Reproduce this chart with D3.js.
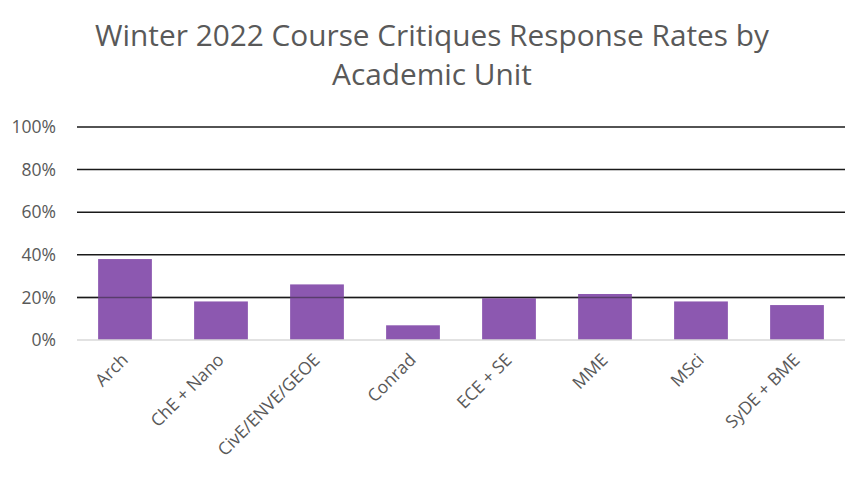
<!DOCTYPE html>
<html>
<head>
<meta charset="utf-8">
<script src="https://cdn.jsdelivr.net/npm/d3@7"></script>
<style>
  body { margin: 0; background: #fff; }
  text { font-family: "Open Sans", "Noto Sans", sans-serif; fill: #595959; }
</style>
</head>
<body>
<svg id="chart" width="867" height="484"></svg>
<script>
// data
const units = ['Arch', 'ChE + Nano', 'CivE/ENVE/GEOE', 'Conrad', 'ECE + SE', 'MME', 'MSci', 'SyDE + BME']
const rates = [0.38, 0.181, 0.261, 0.069, 0.196, 0.216, 0.181, 0.164]
const yTicks = [0, 0.2, 0.4, 0.6, 0.8, 1.0]
const titleLines = ['Winter 2022 Course Critiques Response Rates by', 'Academic Unit']

const svg = d3.select('#chart')
const plotLeft = 77, plotRight = 845, plotTop = 127, plotBottom = 340

const x = d3.scaleBand().domain(units).range([plotLeft, plotRight]).paddingInner(0.44).paddingOuter(0.22)
const y = d3.scaleLinear().domain([0, 1]).range([plotBottom, plotTop])

// title
const title = svg.append('g')
title.selectAll('text')
  .data(titleLines)
  .enter()
  .append('text')
  .attr('x', 432)
  .attr('y', (d, i) => 46 + i * 39)
  .attr('text-anchor', 'middle')
  .style('font-size', '28px')
  .text(d => d)
// shrink the first line to fit the reference width, then reuse that size
const first = title.select('text').node()
const fs = 28 * 674 / first.getComputedTextLength()
title.selectAll('text').style('font-size', fs + 'px')

// gridlines
svg.append('g')
  .selectAll('line')
  .data(yTicks.filter(t => t > 0))
  .enter()
  .append('line')
  .attr('x1', plotLeft)
  .attr('x2', plotRight)
  .attr('y1', d => y(d))
  .attr('y2', d => y(d))
  .attr('stroke', '#1a1a1a')
  .attr('stroke-width', 1.5)

// bars
svg.append('g')
  .selectAll('rect')
  .data(rates)
  .enter()
  .append('rect')
  .attr('x', (d, i) => x(units[i]))
  .attr('y', d => y(d))
  .attr('width', x.bandwidth())
  .attr('height', d => y(0) - y(d))
  .attr('fill', '#8c58b0')

// 20% line shows faintly through the bars
svg.append('line')
  .attr('x1', plotLeft).attr('x2', plotRight)
  .attr('y1', y(0.2)).attr('y2', y(0.2))
  .attr('stroke', '#1a1a1a').attr('stroke-opacity', 0.45).attr('stroke-width', 1.5)

// baseline
svg.append('line')
  .attr('x1', plotLeft).attr('x2', plotRight)
  .attr('y1', y(0)).attr('y2', y(0))
  .attr('stroke', '#d9d9d9').attr('stroke-width', 1.5)

// y axis labels
const yAxis = d3.axisLeft(y).tickValues(yTicks).tickFormat(d3.format('.0%')).tickSize(0).tickPadding(21)
svg.append('g')
  .attr('transform', `translate(${plotLeft},0)`)
  .call(yAxis)
  .call(g => g.select('.domain').remove())
  .selectAll('text')
  .style('font-size', '17.5px')
  .style('fill', '#595959')

// x axis labels
const xAxis = d3.axisBottom(x).tickSize(0).tickPadding(0)
svg.append('g')
  .attr('transform', `translate(0,${plotBottom})`)
  .call(xAxis)
  .call(g => g.select('.domain').remove())
  .selectAll('text')
  .attr('text-anchor', 'end')
  .attr('dy', 0)
  .attr('transform', 'translate(4,21) rotate(-45)')
  .style('font-size', '17.5px')
  .style('fill', '#595959')
</script>
</body>
</html>
